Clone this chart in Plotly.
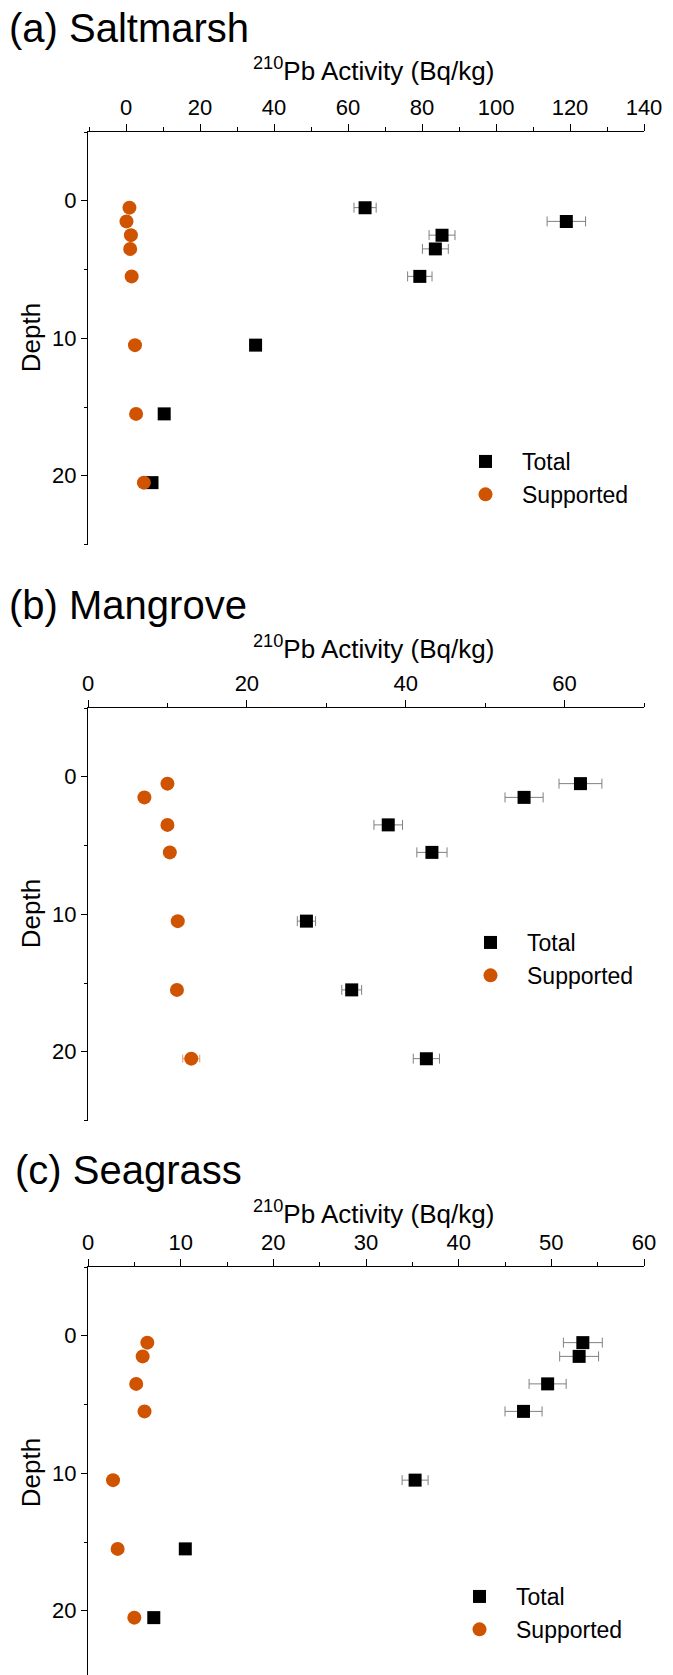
import plotly.graph_objects as go

W, H = 673, 1675

# ---------------- data ----------------
# (a) Saltmarsh
depth_a = [0.5, 1.5, 2.5, 3.5, 5.5, 10.5, 15.5, 20.5]
total_a = [64.6, 119.0, 85.4, 83.6, 79.4, 35.0, 10.3, 7.0]
total_err_a = [3.0, 5.2, 3.5, 3.5, 3.3, 0.8, 0.5, 0.5]
supp_a = [0.9, 0.1, 1.3, 1.1, 1.5, 2.4, 2.7, 4.8]
supp_err_a = [0.2, 0.2, 0.2, 0.2, 0.2, 0.3, 0.3, 0.4]

# (b) Mangrove
depth_b = [0.5, 1.5, 3.5, 5.5, 10.5, 15.5, 20.5]
total_b = [62.0, 54.9, 37.8, 43.3, 27.5, 33.2, 42.6]
total_err_b = [2.7, 2.4, 1.8, 1.9, 1.15, 1.25, 1.65]
supp_b = [10.0, 7.1, 10.0, 10.3, 11.3, 11.2, 13.0]
supp_err_b = [0.3, 0.3, 0.3, 0.3, 0.6, 0.5, 1.07]

# (c) Seagrass
depth_c = [0.5, 1.5, 3.5, 5.5, 10.5, 15.5, 20.5]
total_c = [53.4, 53.0, 49.6, 47.0, 35.3, 10.5, 7.1]
total_err_c = [2.1, 2.1, 2.0, 2.0, 1.4, 0.3, 0.3]
supp_c = [6.4, 5.9, 5.2, 6.1, 2.7, 3.2, 5.0]
supp_err_c = [0.2, 0.2, 0.2, 0.2, 0.2, 0.2, 0.2]

panel_titles = ["(a) Saltmarsh", "(b) Mangrove", "(c) Seagrass"]
x_title = "<sup>210</sup>Pb Activity (Bq/kg)"
y_title = "Depth"
series_names = ["Total", "Supported"]

# ---------------- style ----------------
FONT = "Arial, 'Liberation Sans', sans-serif"
ORANGE = "#CF5300"
BLACK = "#000000"
ERRC = "#808080"


def px_x(p):
    return p / W


def px_y(p):
    return 1 - p / H


fig = go.Figure()

panels = [
    dict(depth=depth_a, tot=total_a, tot_e=total_err_a, sup=supp_a, sup_e=supp_err_a,
         top=132, xr=[-10.3, 140], dtick=20, mdtick=10, legend="legend",
         title_x=7, title_y=28, xt_y=70, leg=(449, 440)),
    dict(depth=depth_b, tot=total_b, tot_e=total_err_b, sup=supp_b, sup_e=supp_err_b,
         top=708, xr=[0, 70], dtick=20, mdtick=10, legend="legend2",
         title_x=7, title_y=605, xt_y=647, leg=(454, 921)),
    dict(depth=depth_c, tot=total_c, tot_e=total_err_c, sup=supp_c, sup_e=supp_err_c,
         top=1267, xr=[0, 60], dtick=10, mdtick=5, legend="legend3",
         title_x=13, title_y=1170, xt_y=1212, leg=(443, 1575)),
]

PLOT_H = 412.5  # pixels for 30 depth units
LEFT, RIGHT = 88, 644

layout_upd = {}
annotations = []
for i, p in enumerate(panels):
    n = "" if i == 0 else str(i + 1)
    xa, ya = "x" + n, "y" + n
    fig.add_trace(go.Scatter(
        x=p["tot"], y=p["depth"], mode="markers", name=series_names[0],
        xaxis=xa, yaxis=ya, legend=p["legend"],
        marker=dict(symbol="square", size=13, color=BLACK, line=dict(width=0)),
        error_x=dict(type="data", array=p["tot_e"], color=ERRC, thickness=1, width=5),
    ))
    fig.add_trace(go.Scatter(
        x=p["sup"], y=p["depth"], mode="markers", name=series_names[1],
        xaxis=xa, yaxis=ya, legend=p["legend"],
        marker=dict(symbol="circle", size=14, color=ORANGE, line=dict(width=0)),
        error_x=dict(type="data", array=p["sup_e"], color="#E8956A", thickness=1, width=4),
    ))

    top = p["top"]
    bottom = top + PLOT_H
    ymax_val = 25.0
    dom_bottom = px_y(bottom)
    if dom_bottom < 0:
        ymax_val = -5 + (H - top) / (PLOT_H / 30)
        dom_bottom = 0.0

    layout_upd["xaxis" + n] = dict(
        domain=[px_x(LEFT), px_x(RIGHT)], anchor=ya, side="top",
        range=p["xr"], tick0=0, dtick=p["dtick"],
        showline=True, linecolor=BLACK, linewidth=1.3,
        ticks="outside", ticklen=7, tickwidth=1.3, tickcolor=BLACK,
        minor=dict(ticks="outside", ticklen=4, tickwidth=1.3, tickcolor=BLACK,
                   dtick=p["mdtick"], tick0=0, showgrid=False),
        showgrid=False, zeroline=False,
        tickfont=dict(size=22, color=BLACK, family=FONT),
    )
    layout_upd["yaxis" + n] = dict(
        domain=[dom_bottom, px_y(top)], anchor=xa,
        range=[ymax_val, -5], tick0=0, dtick=10,
        showline=True, linecolor=BLACK, linewidth=1.3,
        ticks="outside", ticklen=6, tickwidth=1.3, tickcolor=BLACK,
        minor=dict(ticks="outside", ticklen=3, tickwidth=1.3, tickcolor=BLACK,
                   dtick=5, tick0=-5, showgrid=False),
        showgrid=False, zeroline=False,
        tickfont=dict(size=22, color=BLACK, family=FONT),
    )
    layout_upd[p["legend"]] = dict(
        x=px_x(p["leg"][0]), y=px_y(p["leg"][1]), xanchor="left", yanchor="top",
        bgcolor="rgba(0,0,0,0)", borderwidth=0,
        font=dict(size=23, color=BLACK, family=FONT),
        itemwidth=63, tracegroupgap=0,
    )

    annotations.append(dict(
        text=panel_titles[i], xref="paper", yref="paper",
        x=px_x(p["title_x"]), y=px_y(p["title_y"]), xanchor="left", yanchor="middle",
        showarrow=False, font=dict(size=40, color=BLACK, family=FONT),
    ))
    annotations.append(dict(
        text=x_title, xref="paper", yref="paper",
        x=px_x(373), y=px_y(p["xt_y"]), xanchor="center", yanchor="middle",
        showarrow=False, font=dict(size=26, color=BLACK, family=FONT),
    ))
    annotations.append(dict(
        text=y_title, xref="paper", yref="paper", textangle=-90,
        x=px_x(31), y=px_y(top + PLOT_H / 2), xanchor="center", yanchor="middle",
        showarrow=False, font=dict(size=26, color=BLACK, family=FONT),
    ))

fig.update_layout(
    width=W, height=H,
    margin=dict(l=0, r=0, t=0, b=0, autoexpand=False),
    paper_bgcolor="white", plot_bgcolor="white",
    font=dict(family=FONT, color=BLACK),
    annotations=annotations,
    showlegend=True,
    **layout_upd,
)

fig.write_html("out.html")
